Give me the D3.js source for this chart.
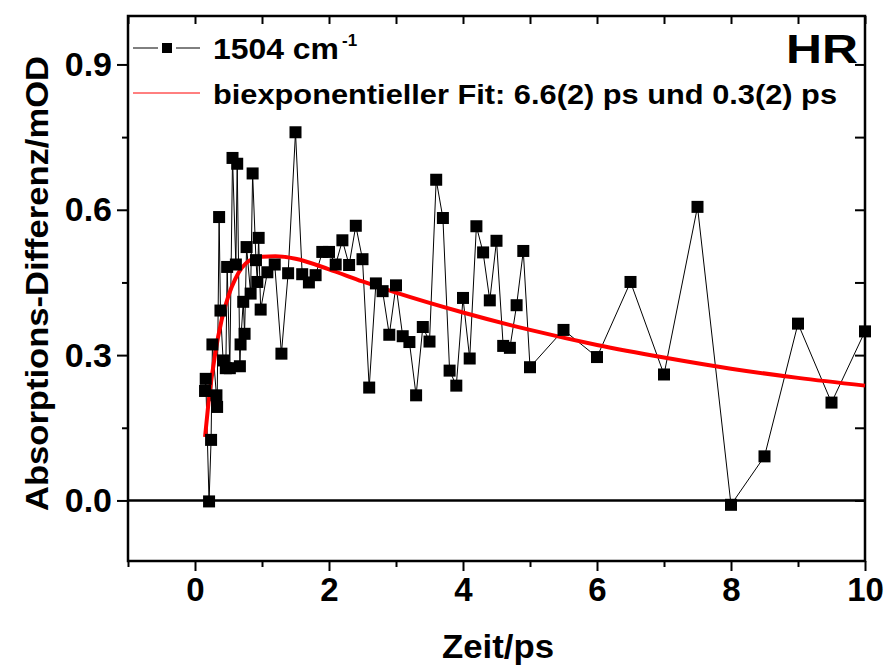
<!DOCTYPE html>
<html>
<head>
<meta charset="utf-8">
<script src="https://d3js.org/d3.v7.min.js"></script>
<style>
  body { margin: 0; background: #fff; }
  svg text { font-family: "Liberation Sans", Arial, sans-serif; font-weight: bold; }
</style>
</head>
<body>
<div id="chart"></div>
<script>
// measured points (Zeit / ps, Absorptions-Differenz / mOD)
const times = [0.15, 0.16, 0.21, 0.24, 0.26, 0.32, 0.33, 0.36, 0.38, 0.42, 0.46, 0.48, 0.52, 0.56, 0.61, 0.63,
    0.67, 0.68, 0.72, 0.74, 0.77, 0.83, 0.86, 0.91, 0.93, 0.95, 0.98, 1.08, 1.19, 1.29, 1.39, 1.5,
    1.6, 1.7, 1.8, 1.9, 2.0, 2.1, 2.2, 2.3, 2.4, 2.5, 2.6, 2.7, 2.8, 2.9, 3.0, 3.1, 3.2, 3.3, 3.4, 3.5,
    3.6, 3.7, 3.8, 3.9, 4.0, 4.1, 4.2, 4.3, 4.4, 4.5, 4.6, 4.7, 4.8, 4.9, 5.0,
    5.5, 6.0, 6.5, 7.0, 7.5, 8.0, 8.5, 9.0, 9.5, 10.0];
const signal = [0.226, 0.251, -0.002, 0.125, 0.322, 0.217, 0.193, 0.585, 0.392, 0.289, 0.273, 0.482, 0.273, 0.707, 0.487, 0.695,
    0.277, 0.322, 0.41, 0.344, 0.523, 0.427, 0.675, 0.496, 0.451, 0.542, 0.394, 0.471, 0.487, 0.303, 0.469, 0.76,
    0.467, 0.45, 0.465, 0.513, 0.513, 0.487, 0.537, 0.486, 0.567, 0.498, 0.233, 0.448, 0.432, 0.342, 0.444, 0.339, 0.327, 0.217, 0.358, 0.328,
    0.662, 0.583, 0.268, 0.237, 0.418, 0.293, 0.566, 0.512, 0.413, 0.536, 0.319, 0.315, 0.403, 0.515, 0.275,
    0.352, 0.296, 0.451, 0.26, 0.606, -0.009, 0.091, 0.365, 0.202, 0.349];

// fit curve
const fitTimes = [0.15, 0.2, 0.3, 0.4, 0.5, 0.6, 0.8, 1.0, 1.2, 1.5, 2.0, 2.5, 3.0, 4.0, 5.0, 6.0, 7.0, 8.0, 9.0, 10.0];
const fitValues = [0.131, 0.2, 0.302, 0.374, 0.423, 0.457, 0.494, 0.503, 0.504, 0.499, 0.477, 0.452, 0.429, 0.388, 0.352, 0.321, 0.295, 0.272, 0.253, 0.237];

const xTicks = [0, 2, 4, 6, 8, 10];
const xMinor = [-1, 1, 3, 5, 7, 9];
const yTicks = [0.0, 0.3, 0.6, 0.9];
const yMinor = [0.15, 0.45, 0.75];

const seriesLabel = "1504 cm";
const fitLabel = "biexponentieller Fit: 6.6(2) ps und 0.3(2) ps";

const width = 884, height = 666;
const box = {left: 128, right: 865, top: 16, bottom: 561};

const svg = d3.select("#chart").append("svg")
    .attr("width", width)
    .attr("height", height);

const x = d3.scaleLinear().domain([-1, 10]).range([box.left, box.right]);
const y = d3.scaleLinear().domain([-0.125, 1.0]).range([box.bottom, box.top]);

const points = times.map((t, i) => ({t: t, v: signal[i]}));
const fit = fitTimes.map((t, i) => ({t: t, v: fitValues[i]}));

////////////
/// Axes ///
////////////

const fmtY = d3.format(".1f");

// bottom: outward ticks with labels
svg.append("g")
    .attr("transform", "translate(0," + box.bottom + ")")
    .call(d3.axisBottom(x).tickValues(xTicks).tickSize(10).tickPadding(7).tickFormat(d3.format("d")))
    .call(g => g.selectAll("text").attr("font-size", 33).attr("fill", "#000"));
svg.append("g")
    .attr("transform", "translate(0," + box.bottom + ")")
    .call(d3.axisBottom(x).tickValues(xMinor).tickSize(6).tickFormat(""));

// left: outward ticks with labels
svg.append("g")
    .attr("transform", "translate(" + box.left + ",0)")
    .call(d3.axisLeft(y).tickValues(yTicks).tickSize(11).tickPadding(5).tickFormat(fmtY))
    .call(g => g.selectAll("text").attr("font-size", 34).attr("fill", "#000"));
svg.append("g")
    .attr("transform", "translate(" + box.left + ",0)")
    .call(d3.axisLeft(y).tickValues(yMinor).tickSize(6).tickFormat(""));

// top and right: inward ticks, no labels
svg.append("g")
    .attr("transform", "translate(0," + box.top + ")")
    .call(d3.axisBottom(x).tickValues(xTicks.concat(xMinor)).tickSize(8).tickFormat(""));
svg.append("g")
    .attr("transform", "translate(" + box.right + ",0)")
    .call(d3.axisLeft(y).tickValues(yTicks.concat(yMinor)).tickSize(10).tickFormat(""));

svg.selectAll(".domain").remove();
svg.selectAll(".tick line").attr("stroke", "#000").attr("stroke-width", 2);

// frame
svg.append("rect")
    .attr("x", box.left).attr("y", box.top)
    .attr("width", box.right - box.left).attr("height", box.bottom - box.top)
    .attr("fill", "none").attr("stroke", "#000").attr("stroke-width", 2.5);

// zero line
svg.append("line")
    .attr("x1", box.left).attr("x2", box.right)
    .attr("y1", y(0)).attr("y2", y(0))
    .attr("stroke", "#000").attr("stroke-width", 2.5);

//////////////
/// Labels ///
//////////////

svg.append("text")
    .attr("x", 498)
    .attr("y", 658)
    .attr("text-anchor", "middle")
    .attr("font-size", 34)
    .attr("textLength", 112).attr("lengthAdjust", "spacingAndGlyphs")
    .text("Zeit/ps");

svg.append("text")
    .attr("transform", "translate(48," + ((box.top + box.bottom) / 2 - 5) + ") rotate(-90)")
    .attr("text-anchor", "middle")
    .attr("font-size", 32)
    .attr("textLength", 455).attr("lengthAdjust", "spacingAndGlyphs")
    .text("Absorptions-Differenz/mOD");

svg.append("text")
    .attr("x", 858).attr("y", 63)
    .attr("text-anchor", "end")
    .attr("font-size", 40)
    .attr("textLength", 72).attr("lengthAdjust", "spacingAndGlyphs")
    .text("HR");

//////////////
/// Shapes ///
//////////////

const line = d3.line().x(d => x(d.t)).y(d => y(d.v));

svg.append("path")
    .datum(points)
    .attr("fill", "none")
    .attr("stroke", "#000")
    .attr("stroke-width", 1)
    .attr("d", line);

svg.append("path")
    .datum(fit)
    .attr("fill", "none")
    .attr("stroke", "#ff0000")
    .attr("stroke-width", 4)
    .attr("d", line.curve(d3.curveMonotoneX));

const sq = 12;
svg.append("g")
    .selectAll("rect")
    .data(points)
    .enter()
    .append("rect")
    .attr("x", d => x(d.t) - sq / 2)
    .attr("y", d => y(d.v) - sq / 2)
    .attr("width", sq)
    .attr("height", sq)
    .attr("fill", "#000");

//////////////
/// Legend ///
//////////////

const leg = svg.append("g");
leg.append("line").attr("x1", 133).attr("x2", 158).attr("y1", 48).attr("y2", 48).attr("stroke", "#000").attr("stroke-width", 1);
leg.append("line").attr("x1", 176).attr("x2", 200).attr("y1", 48).attr("y2", 48).attr("stroke", "#000").attr("stroke-width", 1);
leg.append("rect").attr("x", 162).attr("y", 43).attr("width", 10).attr("height", 10).attr("fill", "#000");

const t1 = leg.append("text").attr("x", 213).attr("y", 59).attr("font-size", 29);
t1.append("tspan").attr("textLength", 126).attr("lengthAdjust", "spacingAndGlyphs").text(seriesLabel);
t1.append("tspan").attr("font-size", 17).attr("dy", -13).attr("dx", 3).text("-1");

leg.append("line").attr("x1", 133).attr("x2", 200).attr("y1", 93).attr("y2", 93).attr("stroke", "#ff0000").attr("stroke-width", 1);
leg.append("text").attr("x", 213).attr("y", 104).attr("font-size", 28)
    .attr("textLength", 624).attr("lengthAdjust", "spacingAndGlyphs")
    .text(fitLabel);
</script>
</body>
</html>
